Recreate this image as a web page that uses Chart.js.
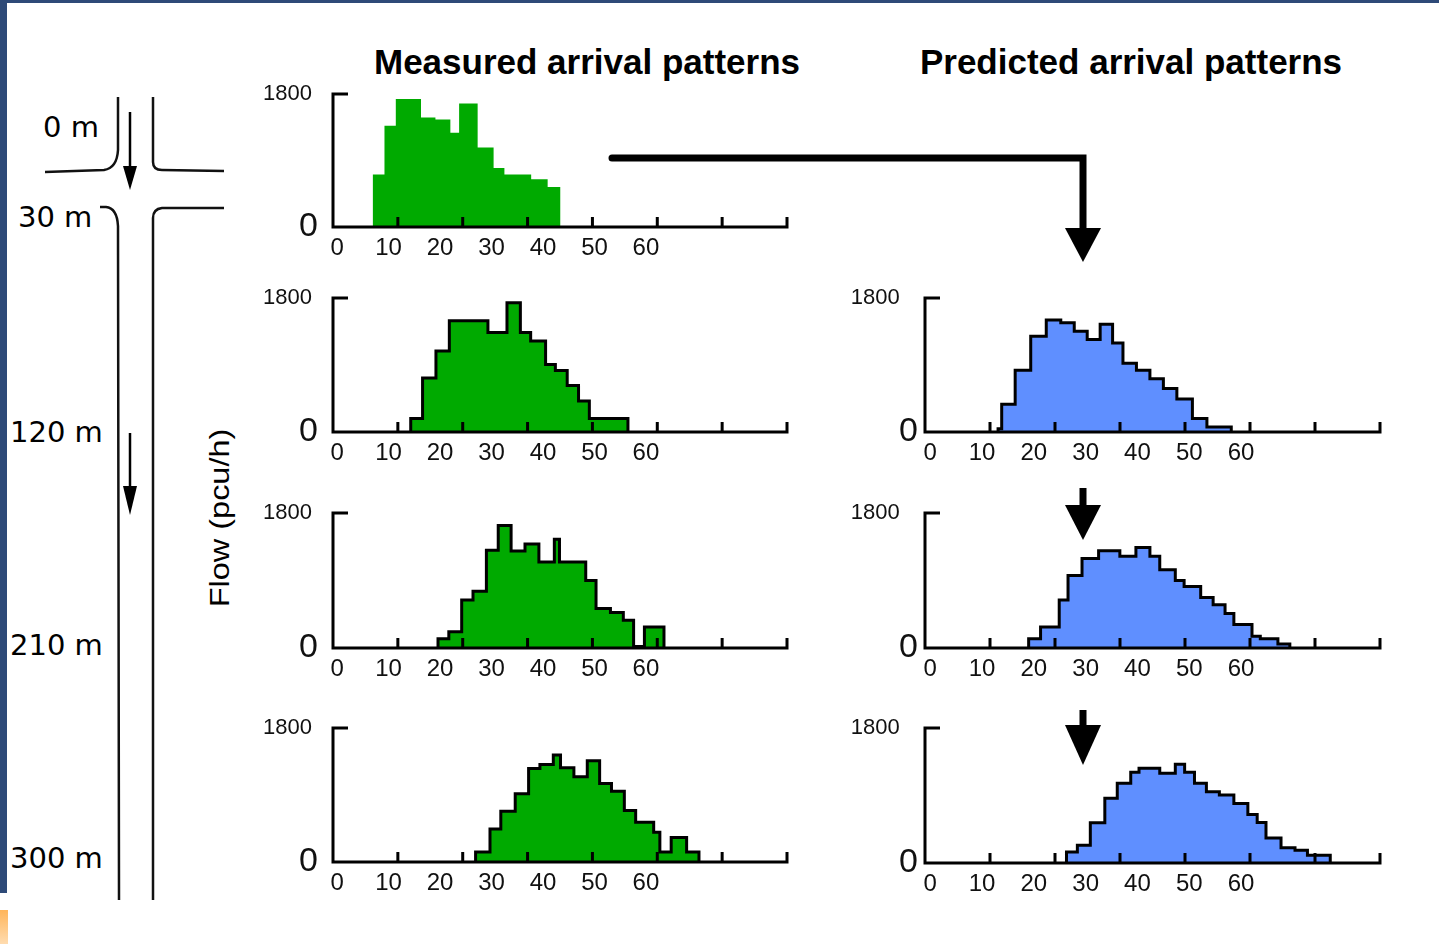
<!DOCTYPE html>
<html>
<head>
<meta charset="utf-8">
<script src="https://cdn.jsdelivr.net/npm/chart.js@4.4.1/dist/chart.umd.min.js"></script>
<style>
  html, body { margin: 0; padding: 0; background: #fff; }
  #page { position: relative; width: 1439px; height: 944px; overflow: hidden; background: #fff;
          font-family: "Liberation Sans", Arial, sans-serif; color: #000; }
  #page canvas { position: absolute; }
  .title { position: absolute; top: 44px; font-weight: bold; font-size: 35px; line-height: 35px;
           white-space: nowrap; transform: translateX(-50%); }
  .dist { position: absolute; font-family: "DejaVu Sans", sans-serif; font-size: 29px; line-height: 29px;
          white-space: nowrap; }
  #flow { position: absolute; left: 220px; top: 518px; font-size: 28px; line-height: 28px; white-space: nowrap;
          transform: translate(-50%, -50%) rotate(-90deg) scale(1.16, 1); }
  svg { position: absolute; left: 0; top: 0; pointer-events: none; }
</style>
</head>
<body>
<div id="page">
  <div class="title" style="left:587px">Measured arrival patterns</div>
  <div class="title" style="left:1131px">Predicted arrival patterns</div>
  <div class="dist" style="left:43px;top:113px">0 m</div>
  <div class="dist" style="left:18px;top:203px">30 m</div>
  <div class="dist" style="left:10px;top:418px">120 m</div>
  <div class="dist" style="left:10px;top:631px">210 m</div>
  <div class="dist" style="left:10px;top:844px">300 m</div>
  <div id="flow">Flow (pcu/h)</div>

  <canvas id="m0"></canvas>
  <canvas id="m120"></canvas>
  <canvas id="m210"></canvas>
  <canvas id="m300"></canvas>
  <canvas id="p120"></canvas>
  <canvas id="p210"></canvas>
  <canvas id="p300"></canvas>

  <svg width="1439" height="944">
    <defs>
      <linearGradient id="og" x1="0" y1="0" x2="0" y2="1">
        <stop offset="0" stop-color="#ffb55a"/>
        <stop offset="1" stop-color="#ffdcb0"/>
      </linearGradient>
    </defs>
    <rect x="0" y="0" width="1439" height="3" fill="#2e4a78"/>
    <rect x="0" y="0" width="7" height="893" fill="#2e4a78"/>
    <rect x="0" y="910" width="8" height="34" fill="url(#og)"/>

    <!-- road -->
    <g fill="none" stroke="#111" stroke-width="2.5">
      <path d="M118 97 L118 150 Q117 168 104 170 L45 172"/>
      <path d="M153 97 L153 162 Q153 170 162 170 L224 171"/>
      <path d="M100 207 L106 207 Q117 208 118 226 L119 900"/>
      <path d="M224 208 L162 208 Q153 209 153 218 L153 900"/>
    </g>
    <line x1="130" y1="112" x2="130" y2="170" stroke="#000" stroke-width="2.5"/>
    <polygon points="123,166 137,166 130,190" fill="#000"/>
    <line x1="130" y1="433" x2="130" y2="490" stroke="#000" stroke-width="2.5"/>
    <polygon points="123,486 137,486 130,515" fill="#000"/>

    <!-- connector arrows -->
    <path d="M612 158 L1083 158 L1083 232" fill="none" stroke="#000" stroke-width="7"
          stroke-linecap="round" stroke-linejoin="miter"/>
    <polygon points="1065,228 1101,228 1083,262" fill="#000"/>
    <rect x="1079.5" y="488" width="7" height="20" fill="#000"/>
    <polygon points="1065,505 1101,505 1083,540" fill="#000"/>
    <rect x="1079.5" y="710" width="7" height="20" fill="#000"/>
    <polygon points="1065,725 1101,725 1083,765" fill="#000"/>
  </svg>
</div>

<script>
// tick labels
const xLabels = [0, 10, 20, 30, 40, 50, 60];
const yLabels = [0, 1800];

// measured, 0 m (bin edges in s, flow in pcu/h)
const m0Edges = [6.9, 9.2, 11.4, 16.3, 19.1, 22.0, 23.7, 27.3, 30.4, 32.5, 37.7, 40.9, 43.4];
const m0Flow = [710, 1370, 1731, 1483, 1455, 1275, 1672, 1076, 800, 710, 646, 542];

// measured, 120 m
const m120Edges = [14.3, 16.6, 19.2, 21.8, 29.3, 33.0, 35.6, 37.6, 40.5, 42.4, 44.7, 46.9, 49.0, 56.5];
const m120Flow = [181, 725, 1088, 1496, 1338, 1737, 1338, 1224, 907, 825, 626, 417, 181];

// measured, 210 m
const m210Edges = [19.6, 21.7, 24.2, 26.4, 29.0, 31.3, 33.8, 36.5, 39.2, 42.2, 43.2, 48.3, 50.3, 53.1, 55.6, 57.6, 59.7, 63.5];
const m210Flow = [122, 216, 639, 756, 1305, 1634, 1292, 1386, 1148, 1449, 1148, 900, 527, 473, 369, 20, 279];

// measured, 300 m
const m300Edges = [26.9, 29.7, 31.8, 34.6, 37.2, 39.4, 42.0, 43.4, 46.0, 48.6, 51.0, 53.3, 55.8, 58.0, 61.5, 62.7, 64.9, 67.9, 70.3];
const m300Flow = [136, 443, 683, 918, 1257, 1311, 1438, 1266, 1144, 1361, 1054, 949, 692, 533, 398, 136, 330, 136];

// predicted, 120 m
const p120Edges = [13.1, 13.8, 16.4, 19.4, 22.4, 25.2, 27.8, 30.3, 32.8, 35.2, 37.2, 39.8, 42.4, 45.0, 47.6, 50.6, 53.4, 58.1];
const p120Flow = [45, 374, 829, 1285, 1504, 1467, 1353, 1244, 1449, 1194, 925, 829, 715, 583, 442, 182, 68];

// predicted, 210 m
const p210Edges = [19.0, 21.3, 24.9, 26.6, 29.3, 32.5, 36.6, 39.7, 42.4, 44.3, 47.3, 49.0, 52.2, 54.6, 56.9, 58.6, 62.1, 63.7, 67.1, 69.4];
const p210Flow = [122, 279, 639, 968, 1193, 1296, 1224, 1341, 1224, 1044, 900, 819, 675, 576, 459, 315, 158, 122, 54];

// predicted, 300 m
const p300Edges = [26.3, 28.4, 30.9, 33.7, 36.1, 38.7, 40.3, 44.3, 47.3, 49.1, 51.0, 53.3, 55.8, 58.6, 61.3, 63.1, 64.8, 67.7, 70.4, 72.8, 77.2];
const p300Flow = [147, 237, 536, 862, 1063, 1211, 1264, 1197, 1318, 1211, 1063, 951, 907, 795, 648, 540, 335, 205, 170, 103];

const GREEN = '#00aa00';
const BLUE = '#5f8fff';

Chart.defaults.font.family = '"Liberation Sans", Arial, sans-serif';
Chart.defaults.color = '#111';

// y axis with top bracket, x axis with inward ticks and closing bracket
const axisDeco = {
  id: 'axisDeco',
  afterDatasetsDraw(chart) {
    const {ctx, chartArea: a, scales: {x, y}} = chart;
    const top = y.getPixelForValue(y.max);
    ctx.save();
    ctx.strokeStyle = '#000';
    ctx.lineWidth = 3;
    ctx.lineJoin = 'miter';
    ctx.beginPath();
    ctx.moveTo(a.left + 15, top);
    ctx.lineTo(a.left, top);
    ctx.lineTo(a.left, a.bottom);
    ctx.lineTo(a.right, a.bottom);
    ctx.lineTo(a.right, a.bottom - 10);
    for (let k = 1; k < 7; k++) {
      const px = x.getPixelForValue(x.min + k * (x.max - x.min) / 7);
      ctx.moveTo(px, a.bottom);
      ctx.lineTo(px, a.bottom - 10);
    }
    ctx.stroke();
    ctx.restore();
  }
};

function stepPoints(edges, flow) {
  const pts = [{x: edges[0], y: 0}];
  flow.forEach((f, i) => pts.push({x: edges[i], y: f}));
  pts.push({x: edges[edges.length - 1], y: 0});
  return pts;
}

const PAD_TOP = 14, PAD_RIGHT = 12, Y_W = 80, X_H = 40;

function makeChart(id, area, edges, flow, color, outline, col) {
  const cv = document.getElementById(id);
  const left = area[0] - Y_W, top = area[1] - PAD_TOP;
  cv.width = area[2] + PAD_RIGHT - left;
  cv.height = area[3] + X_H - top;
  cv.style.left = left + 'px';
  cv.style.top = top + 'px';

  return new Chart(cv, {
    type: 'line',
    data: {
      datasets: [{
        data: stepPoints(edges, flow),
        stepped: true,
        fill: 'origin',
        backgroundColor: color,
        borderColor: '#000',
        borderWidth: outline ? 3 : 0,
        borderJoinStyle: 'miter',
        pointRadius: 0,
        clip: false
      }]
    },
    options: {
      responsive: false,
      animation: false,
      events: [],
      layout: {padding: {top: PAD_TOP, right: PAD_RIGHT, left: 0, bottom: 0}},
      plugins: {legend: {display: false}, tooltip: {enabled: false}},
      scales: {
        x: {
          type: 'linear', bounds: 'data', min: col.xMin, max: col.xMax,
          grid: {display: false, drawTicks: false},
          border: {display: false},
          afterBuildTicks: s => { s.ticks = xLabels.map(v => ({value: v})); },
          afterFit: s => { s.height = X_H; s.paddingLeft = 0; s.paddingRight = 0; },
          ticks: {padding: 7, font: {size: 24}, color: '#111', maxRotation: 0, autoSkip: false}
        },
        y: {
          type: 'linear', bounds: 'data', min: 0, max: 1800,
          grid: {display: false, drawTicks: false},
          border: {display: false},
          afterBuildTicks: s => { s.ticks = yLabels.map(v => ({value: v})); },
          afterFit: s => { s.width = Y_W; s.paddingTop = 0; s.paddingBottom = 0; },
          ticks: {
            padding: col.yPad,
            color: '#111',
            font: c => ({size: c.tick && c.tick.value === 0 ? 34 : 22}),
            callback: v => v === 1800 ? '1800' + col.topGap : String(v)
          }
        }
      }
    },
    plugins: [axisDeco]
  });
}

const measuredCol = {xMin: -0.8, xMax: 87.4, yPad: 15, topGap: ' '};
const predictedCol = {xMin: -1.0, xMax: 86.8, yPad: 7, topGap: '   '};

// chart areas: left, top, right, bottom
makeChart('m0', [333, 94, 787, 227], m0Edges, m0Flow, GREEN, false, measuredCol);
makeChart('m120', [333, 298, 787, 432], m120Edges, m120Flow, GREEN, true, measuredCol);
makeChart('m210', [333, 513, 787, 648], m210Edges, m210Flow, GREEN, true, measuredCol);
makeChart('m300', [333, 728, 787, 862], m300Edges, m300Flow, GREEN, true, measuredCol);
makeChart('p120', [925, 298, 1380, 432], p120Edges, p120Flow, BLUE, true, predictedCol);
makeChart('p210', [925, 513, 1380, 648], p210Edges, p210Flow, BLUE, true, predictedCol);
makeChart('p300', [925, 728, 1380, 863], p300Edges, p300Flow, BLUE, true, predictedCol);
</script>
</body>
</html>
